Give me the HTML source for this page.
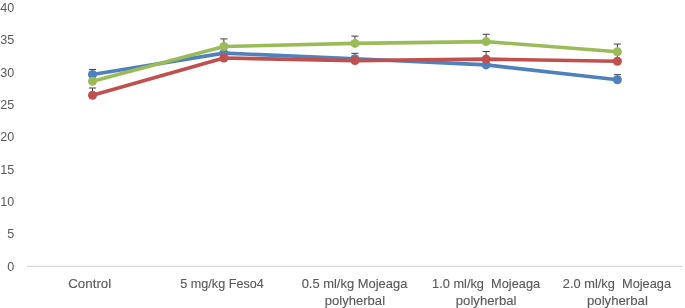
<!DOCTYPE html>
<html><head><meta charset="utf-8"><style>
html,body{margin:0;padding:0;background:#fff;}
svg{display:block;will-change:transform;}
text{font-family:"Liberation Sans",sans-serif;font-size:12.6px;fill:#595959;}
text.x{stroke:#595959;stroke-width:0.12px;}
</style></head><body>
<svg width="685" height="308" viewBox="0 0 685 308">
<rect width="685" height="308" fill="#fff"/>
<line x1="26.9" y1="266.3" x2="683" y2="266.3" stroke="#d0d0d0" stroke-width="1"/>
<text x="14.3" y="270.6" text-anchor="end">0</text>
<text x="14.3" y="238.3" text-anchor="end">5</text>
<text x="14.3" y="206.0" text-anchor="end">10</text>
<text x="14.3" y="173.7" text-anchor="end">15</text>
<text x="14.3" y="141.3" text-anchor="end">20</text>
<text x="14.3" y="109.0" text-anchor="end">25</text>
<text x="14.3" y="76.7" text-anchor="end">30</text>
<text x="14.3" y="44.4" text-anchor="end">35</text>
<text x="14.3" y="12.1" text-anchor="end">40</text>
<text class="x" x="68.17" y="288.3" textLength="43.09" lengthAdjust="spacingAndGlyphs">Control</text>
<text class="x" x="180.34" y="288.3" textLength="83.41" lengthAdjust="spacingAndGlyphs">5 mg/kg Feso4</text>
<text class="x" x="301.67" y="288.3" textLength="105.67" lengthAdjust="spacingAndGlyphs">0.5 ml/kg Mojeaga</text>
<text class="x" x="324.77" y="304.8" textLength="60.28" lengthAdjust="spacingAndGlyphs">polyherbal</text>
<text class="x" x="432.08" y="288.3" textLength="108.06" lengthAdjust="spacingAndGlyphs">1.0 ml/kg  Mojeaga</text>
<text class="x" x="455.80" y="304.8" textLength="60.68" lengthAdjust="spacingAndGlyphs">polyherbal</text>
<text class="x" x="562.85" y="288.3" textLength="108.29" lengthAdjust="spacingAndGlyphs">2.0 ml/kg  Mojeaga</text>
<text class="x" x="586.96" y="304.8" textLength="60.95" lengthAdjust="spacingAndGlyphs">polyherbal</text>
<polyline points="92.5,74.5 223.9,53.1 354.9,58.7 486.1,64.9 617.4,79.7" fill="none" stroke="#4F81BD" stroke-width="3.6" stroke-linejoin="round" stroke-linecap="round"/>
<path d="M92.5 74.5V69.45M88.90 69.45H96.10" stroke="#404040" stroke-width="1" fill="none"/>
<path d="M354.9 58.7V53.30M351.35 53.30H358.55" stroke="#404040" stroke-width="1" fill="none"/>
<path d="M617.4 79.7V74.70M613.80 74.70H621.00" stroke="#404040" stroke-width="1" fill="none"/>
<circle cx="92.5" cy="74.5" r="4.5" fill="#4F81BD"/>
<circle cx="223.9" cy="53.1" r="4.5" fill="#4F81BD"/>
<circle cx="354.9" cy="58.7" r="4.5" fill="#4F81BD"/>
<circle cx="486.1" cy="64.9" r="4.5" fill="#4F81BD"/>
<circle cx="617.4" cy="79.7" r="4.5" fill="#4F81BD"/>
<polyline points="92.5,95.3 223.9,58.0 354.9,60.6 486.1,59.1 617.4,61.2" fill="none" stroke="#C0504D" stroke-width="3.6" stroke-linejoin="round" stroke-linecap="round"/>
<path d="M92.5 95.3V88.00M88.90 88.00H96.10" stroke="#404040" stroke-width="1" fill="none"/>
<path d="M486.1 59.1V51.50M482.55 51.50H489.75" stroke="#404040" stroke-width="1" fill="none"/>
<path d="M617.4 61.2V53.90M613.80 53.90H621.00" stroke="#404040" stroke-width="1" fill="none"/>
<circle cx="92.5" cy="95.3" r="4.5" fill="#C0504D"/>
<circle cx="223.9" cy="58.0" r="4.5" fill="#C0504D"/>
<circle cx="354.9" cy="60.6" r="4.5" fill="#C0504D"/>
<circle cx="486.1" cy="59.1" r="4.5" fill="#C0504D"/>
<circle cx="617.4" cy="61.2" r="4.5" fill="#C0504D"/>
<polyline points="92.5,81.2 223.9,46.5 354.9,43.4 486.1,41.6 617.4,51.7" fill="none" stroke="#9BBB59" stroke-width="3.6" stroke-linejoin="round" stroke-linecap="round"/>
<path d="M223.9 46.5V38.90M220.30 38.90H227.50" stroke="#404040" stroke-width="1" fill="none"/>
<path d="M354.9 43.4V36.10M351.35 36.10H358.55" stroke="#404040" stroke-width="1" fill="none"/>
<path d="M486.1 41.6V34.25M482.55 34.25H489.75" stroke="#404040" stroke-width="1" fill="none"/>
<path d="M617.4 51.7V44.05M613.80 44.05H621.00" stroke="#404040" stroke-width="1" fill="none"/>
<circle cx="92.5" cy="81.2" r="4.5" fill="#9BBB59"/>
<circle cx="223.9" cy="46.5" r="4.5" fill="#9BBB59"/>
<circle cx="354.9" cy="43.4" r="4.5" fill="#9BBB59"/>
<circle cx="486.1" cy="41.6" r="4.5" fill="#9BBB59"/>
<circle cx="617.4" cy="51.7" r="4.5" fill="#9BBB59"/>
</svg>
</body></html>
